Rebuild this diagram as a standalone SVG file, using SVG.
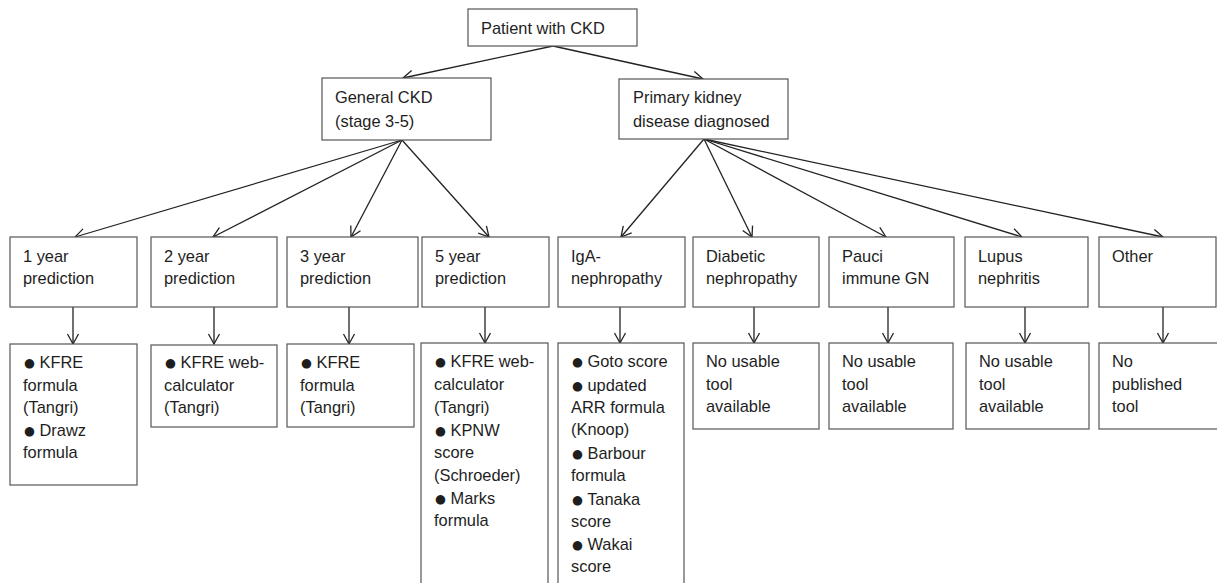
<svg xmlns="http://www.w3.org/2000/svg" width="1217" height="583" viewBox="0 0 1217 583">
<style>
.box{fill:#fff;stroke:#555;stroke-width:1.2}
.t{font-family:"Liberation Sans",Arial,sans-serif;font-size:16.4px;fill:#1e1e1e}
.b{font-family:"DejaVu Sans",sans-serif;font-size:12.5px;baseline-shift:1.5px}
.c{stroke:#222;stroke-width:1.3;fill:none;marker-end:url(#ah)}
</style>
<defs>
<marker id="ah" markerUnits="userSpaceOnUse" viewBox="-12 -7 14 14" refX="0" refY="0" markerWidth="14" markerHeight="14" orient="auto">
<path d="M-10,-5.5 L0,0 L-10,5.5" fill="none" stroke="#222" stroke-width="1.3"/>
</marker>
</defs>
<rect width="1217" height="583" fill="#fff"/>
<g id="connectors">
<line class="c" x1="553" y1="46" x2="403" y2="78"/>
<line class="c" x1="553" y1="46" x2="703" y2="79"/>
<line class="c" x1="402" y1="140" x2="75" y2="237"/>
<line class="c" x1="402" y1="140" x2="213" y2="237"/>
<line class="c" x1="402" y1="140" x2="351" y2="237"/>
<line class="c" x1="402" y1="140" x2="489" y2="237"/>
<line class="c" x1="704" y1="139" x2="621" y2="237"/>
<line class="c" x1="704" y1="139" x2="752" y2="237"/>
<line class="c" x1="704" y1="139" x2="886" y2="237"/>
<line class="c" x1="704" y1="139" x2="1022" y2="237"/>
<line class="c" x1="704" y1="139" x2="1163" y2="237"/>
<line class="c" x1="73" y1="307" x2="73" y2="344"/>
<line class="c" x1="214" y1="307" x2="214" y2="344"/>
<line class="c" x1="349" y1="307" x2="349" y2="344"/>
<line class="c" x1="485" y1="307" x2="485" y2="343"/>
<line class="c" x1="620" y1="307" x2="620" y2="343"/>
<line class="c" x1="754" y1="307" x2="754" y2="343"/>
<line class="c" x1="888" y1="307" x2="888" y2="343"/>
<line class="c" x1="1025" y1="307" x2="1025" y2="343"/>
<line class="c" x1="1163" y1="307" x2="1163" y2="343"/>
</g>
<g id="n-patient"><rect class="box" x="468" y="9" width="169" height="37"/><text class="t" x="481" y="34">Patient with CKD</text></g>
<g id="n-general"><rect class="box" x="322" y="78" width="169" height="62"/><text class="t" x="335" y="103">General CKD</text><text class="t" x="335" y="127">(stage 3-5)</text></g>
<g id="n-primary"><rect class="box" x="619" y="79" width="169" height="60"/><text class="t" x="633" y="103">Primary kidney</text><text class="t" x="633" y="127">disease diagnosed</text></g>

<g id="n-1y"><rect class="box" x="10" y="237" width="127" height="70"/><text class="t" x="23" y="262">1 year</text><text class="t" x="23" y="284">prediction</text></g>
<g id="n-2y"><rect class="box" x="151" y="237" width="126" height="70"/><text class="t" x="164" y="262">2 year</text><text class="t" x="164" y="284">prediction</text></g>
<g id="n-3y"><rect class="box" x="287" y="237" width="131" height="70"/><text class="t" x="300" y="262">3 year</text><text class="t" x="300" y="284">prediction</text></g>
<g id="n-5y"><rect class="box" x="422" y="237" width="127" height="70"/><text class="t" x="435" y="262">5 year</text><text class="t" x="435" y="284">prediction</text></g>
<g id="n-iga"><rect class="box" x="558" y="237" width="127" height="70"/><text class="t" x="571" y="262">IgA-</text><text class="t" x="571" y="284">nephropathy</text></g>
<g id="n-diab"><rect class="box" x="693" y="237" width="126" height="70"/><text class="t" x="706" y="262">Diabetic</text><text class="t" x="706" y="284">nephropathy</text></g>
<g id="n-pauci"><rect class="box" x="829" y="237" width="125" height="70"/><text class="t" x="842" y="262">Pauci</text><text class="t" x="842" y="284">immune GN</text></g>
<g id="n-lupus"><rect class="box" x="965" y="237" width="123" height="70"/><text class="t" x="978" y="262">Lupus</text><text class="t" x="978" y="284">nephritis</text></g>
<g id="n-other"><rect class="box" x="1099" y="237" width="117" height="70"/><text class="t" x="1112" y="262">Other</text></g>

<g id="r-1y"><rect class="box" x="10" y="344" width="127" height="141"/>
<text class="t" x="24" y="368"><tspan class="b">●</tspan> KFRE</text>
<text class="t" x="23" y="390.5">formula</text>
<text class="t" x="23" y="413">(Tangri)</text>
<text class="t" x="24" y="436"><tspan class="b">●</tspan> Drawz</text>
<text class="t" x="23" y="458">formula</text></g>
<g id="r-2y"><rect class="box" x="151" y="345" width="126" height="82"/>
<text class="t" x="165" y="368"><tspan class="b">●</tspan> KFRE web-</text>
<text class="t" x="164" y="390.5">calculator</text>
<text class="t" x="164" y="413">(Tangri)</text></g>
<g id="r-3y"><rect class="box" x="287" y="344" width="127" height="83"/>
<text class="t" x="301" y="368"><tspan class="b">●</tspan> KFRE</text>
<text class="t" x="300" y="390.5">formula</text>
<text class="t" x="300" y="413">(Tangri)</text></g>
<g id="r-5y"><rect class="box" x="421" y="343" width="127" height="250"/>
<text class="t" x="435" y="367"><tspan class="b">●</tspan> KFRE web-</text>
<text class="t" x="434" y="390">calculator</text>
<text class="t" x="434" y="412.5">(Tangri)</text>
<text class="t" x="435" y="436"><tspan class="b">●</tspan> KPNW</text>
<text class="t" x="434" y="458">score</text>
<text class="t" x="434" y="480.5">(Schroeder)</text>
<text class="t" x="435" y="504"><tspan class="b">●</tspan> Marks</text>
<text class="t" x="434" y="526">formula</text></g>
<g id="r-iga"><rect class="box" x="558" y="343" width="126" height="250"/>
<text class="t" x="572" y="367"><tspan class="b">●</tspan> Goto score</text>
<text class="t" x="572" y="391"><tspan class="b">●</tspan> updated</text>
<text class="t" x="571" y="413">ARR formula</text>
<text class="t" x="571" y="435">(Knoop)</text>
<text class="t" x="572" y="459"><tspan class="b">●</tspan> Barbour</text>
<text class="t" x="571" y="481">formula</text>
<text class="t" x="572" y="504.5"><tspan class="b">●</tspan> Tanaka</text>
<text class="t" x="571" y="526.5">score</text>
<text class="t" x="572" y="550"><tspan class="b">●</tspan> Wakai</text>
<text class="t" x="571" y="572">score</text></g>
<g id="r-diab"><rect class="box" x="693" y="343" width="126" height="86"/>
<text class="t" x="706" y="367">No usable</text><text class="t" x="706" y="389.5">tool</text><text class="t" x="706" y="412">available</text></g>
<g id="r-pauci"><rect class="box" x="829" y="343" width="124" height="86"/>
<text class="t" x="842" y="367">No usable</text><text class="t" x="842" y="389.5">tool</text><text class="t" x="842" y="412">available</text></g>
<g id="r-lupus"><rect class="box" x="966" y="343" width="123" height="86"/>
<text class="t" x="979" y="367">No usable</text><text class="t" x="979" y="389.5">tool</text><text class="t" x="979" y="412">available</text></g>
<g id="r-other"><rect class="box" x="1099" y="343" width="130" height="86"/>
<text class="t" x="1112" y="367">No</text><text class="t" x="1112" y="389.5">published</text><text class="t" x="1112" y="412">tool</text></g>
</svg>
